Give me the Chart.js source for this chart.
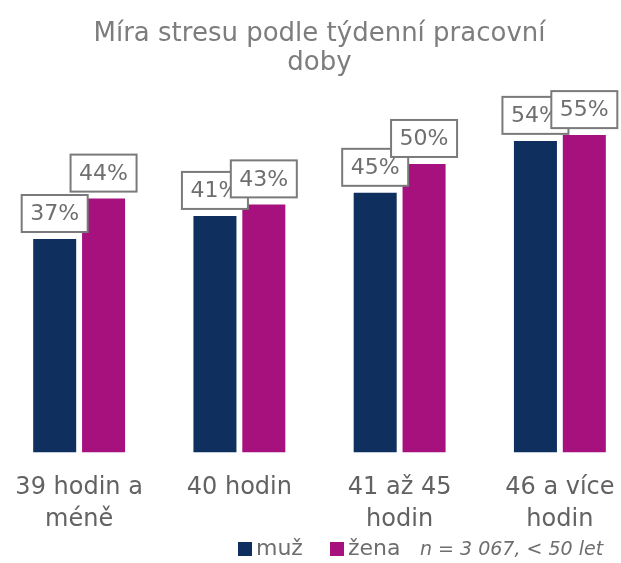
<!DOCTYPE html>
<html>
<head>
<meta charset="utf-8">
<script src="https://cdn.jsdelivr.net/npm/chart.js@4"></script>
<style>
  html, body { margin: 0; padding: 0; background: #fff; overflow: hidden; }
  #wrap { position: relative; left: -1px; width: 641px; height: 563px; }
</style>
</head>
<body>
<div id="wrap"><canvas id="chart"></canvas></div>
<script>
// ============================
// Data
// ============================
const categories = [["39 hodin a", "méně"], "40 hodin", ["41 až 45", "hodin"], ["46 a více", "hodin"]];
const muz = [37, 41, 45, 54];
const zena = [44, 43, 50, 55];
const seriesNames = ["muž", "žena"];
const note = "n = 3 067, < 50 let";

const NAVY = "#0f2f5f";
const MAGENTA = "#a6117e";
const FONT = "'DejaVu Sans', sans-serif";

// ============================
// Value boxes above bars
// ============================
const boxLabels = {
    id: "boxLabels",
    afterDatasetsDraw(chart) {
        const ctx = chart.ctx;
        ctx.save();
        chart.data.datasets.forEach((ds, di) => {
            chart.getDatasetMeta(di).data.forEach((bar, i) => {
                const w = 66, h = 37;
                const x = bar.x - w / 2;
                const y = bar.y - 7 - h;
                ctx.fillStyle = "#fff";
                ctx.fillRect(x, y, w, h);
                ctx.strokeStyle = "#7a7a7a";
                ctx.lineWidth = 2;
                ctx.strokeRect(x, y, w, h);
                ctx.fillStyle = "#6e6e6e";
                ctx.font = "22px " + FONT;
                ctx.textAlign = "center";
                ctx.textBaseline = "middle";
                ctx.fillText(ds.data[i] + "%", bar.x, y + h / 2 + 1);
            });
        });
        ctx.restore();
    }
};

// ============================
// Legend + note
// ============================
const bottomLegend = {
    id: "bottomLegend",
    afterDraw(chart) {
        const ctx = chart.ctx;
        const cy = 549;
        ctx.save();
        ctx.textBaseline = "middle";
        ctx.textAlign = "left";
        const starts = [239, 331];
        chart.data.datasets.forEach((ds, di) => {
            ctx.fillStyle = ds.backgroundColor;
            ctx.fillRect(starts[di], cy - 7, 14, 14);
            ctx.fillStyle = "#6e6e6e";
            ctx.font = "22px " + FONT;
            ctx.fillText(ds.label, starts[di] + 18, cy);
        });
        ctx.font = "italic 19px " + FONT;
        ctx.fillStyle = "#6e6e6e";
        ctx.fillText(note, 421, cy + 1);
        ctx.restore();
    }
};

// ============================
// Chart
// ============================
const ctx = document.getElementById("chart").getContext("2d");
new Chart(ctx, {
    type: "bar",
    data: {
        labels: categories,
        datasets: [{
            label: seriesNames[0],
            data: muz,
            backgroundColor: NAVY,
            categoryPercentage: 0.61,
            barPercentage: 0.88
        }, {
            label: seriesNames[1],
            data: zena,
            backgroundColor: MAGENTA,
            categoryPercentage: 0.61,
            barPercentage: 0.88
        }]
    },
    options: {
        responsive: true,
        maintainAspectRatio: false,
        animation: false,
        layout: { padding: { left: 0, right: 0, top: 0, bottom: 16 } },
        plugins: {
            legend: { display: false },
            tooltip: { enabled: false },
            title: {
                display: true,
                text: ["Míra stresu podle týdenní pracovní", "doby"],
                color: "#7d7d7d",
                font: { family: FONT, size: 26, weight: "normal", lineHeight: 1.12 },
                padding: { top: 20, bottom: 28 }
            }
        },
        scales: {
            x: {
                grid: { display: false },
                border: { display: false },
                ticks: {
                    color: "#626262",
                    padding: 12,
                    maxRotation: 0,
                    autoSkip: false,
                    font: { family: FONT, size: 24, lineHeight: 1.3 }
                }
            },
            y: {
                display: false,
                min: 0,
                max: 60
            }
        }
    },
    plugins: [boxLabels, bottomLegend]
});
</script>
</body>
</html>
